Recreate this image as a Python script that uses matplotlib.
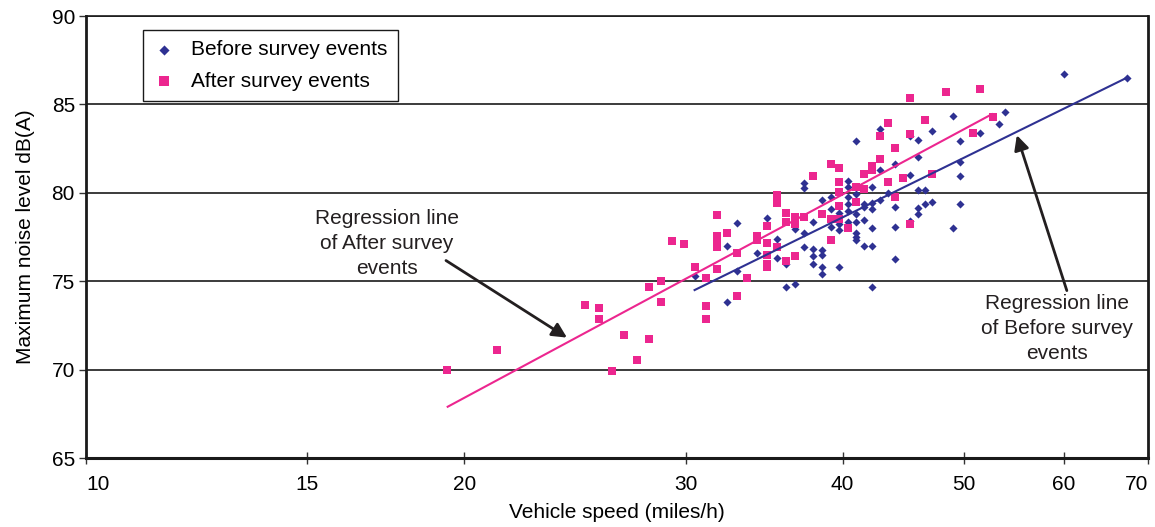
import numpy as np
from matplotlib import pyplot as plt

plt.rcParams['font.family'] = ['Liberation Sans', 'DejaVu Sans']

# before survey events (speed in miles/h, max noise dB(A))
before_speed = [30.51, 32.35, 32.35, 32.95, 32.95, 34.18, 34.81, 35.46, 35.46, 36.05,
                36.05, 36.65, 36.65, 37.25, 37.25, 37.25, 37.25, 37.88, 37.88, 37.88,
                37.88, 38.51, 38.51, 38.51, 38.51, 38.51, 39.15, 39.15, 39.15, 39.73,
                39.73, 39.73, 39.73, 40.39, 40.39, 40.39, 40.39, 40.39, 40.39, 41.00,
                41.00, 41.00, 41.00, 41.00, 41.00, 41.00, 41.60, 41.60, 41.60, 41.60,
                42.21, 42.21, 42.21, 42.21, 42.21, 42.21, 42.82, 42.82, 42.82, 43.46,
                44.02, 44.02, 44.02, 44.02, 45.24, 45.24, 45.24, 45.91, 45.91, 45.91,
                45.91, 45.91, 46.50, 46.50, 47.10, 47.10, 48.94, 48.94, 49.58, 49.58,
                49.58, 49.58, 51.43, 53.25, 53.84, 60.00, 67.32]
before_db = [75.32, 77.02, 73.85, 78.27, 75.55, 76.57, 78.55, 77.36, 76.29, 76.00,
             74.65, 77.93, 74.82, 80.54, 80.25, 77.70, 76.91, 78.33, 76.80, 76.40,
             75.95, 79.57, 76.74, 76.51, 75.78, 75.38, 79.74, 79.06, 78.04, 78.84,
             78.21, 77.87, 75.78, 80.65, 80.31, 79.74, 79.35, 78.95, 78.33, 82.92,
             79.91, 78.78, 78.33, 77.70, 77.48, 77.31, 79.35, 79.18, 78.44, 76.97,
             80.31, 79.40, 79.06, 77.99, 76.97, 74.70, 83.60, 81.27, 79.57, 79.97,
             81.61, 79.18, 78.04, 76.23, 83.20, 80.99, 78.38, 82.97, 82.01, 80.14,
             79.12, 78.78, 80.14, 79.35, 83.48, 79.46, 84.33, 77.99, 82.92, 81.73,
             80.93, 79.35, 83.37, 83.88, 84.56, 86.71, 86.49]

# after survey events
after_speed = [19.38, 21.23, 24.95, 25.59, 25.59, 26.21, 26.79, 27.44, 28.05, 28.05,
               28.67, 28.67, 29.26, 29.91, 30.51, 31.13, 31.13, 31.13, 31.76, 31.76,
               31.76, 31.76, 31.76, 32.35, 32.95, 32.95, 33.56, 34.18, 34.18, 34.81,
               34.81, 34.81, 34.81, 34.81, 35.46, 35.46, 35.46, 36.05, 36.05, 36.05,
               36.65, 36.65, 36.65, 37.25, 37.88, 38.51, 39.15, 39.15, 39.15, 39.73,
               39.73, 39.73, 39.73, 39.73, 40.39, 41.00, 41.00, 41.60, 41.60, 42.21,
               42.21, 42.82, 42.82, 43.46, 43.46, 44.02, 44.02, 44.66, 45.24, 45.24,
               45.24, 46.50, 47.10, 48.32, 50.77, 51.43, 52.67]
after_db = [70.00, 71.13, 73.68, 73.46, 72.89, 69.94, 71.93, 70.57, 74.65, 71.76,
            75.04, 73.80, 77.25, 77.08, 75.78, 75.21, 73.57, 72.89, 78.72, 77.53,
            77.19, 76.91, 75.67, 77.70, 76.57, 74.19, 75.21, 77.53, 77.31, 78.10,
            77.14, 76.51, 76.00, 75.83, 79.86, 79.40, 76.91, 78.84, 78.33, 76.17,
            78.61, 78.21, 76.40, 78.61, 80.93, 78.78, 81.61, 78.50, 77.31, 81.39,
            80.59, 80.03, 79.23, 78.50, 77.99, 80.31, 79.46, 81.05, 80.20, 81.50,
            81.27, 83.20, 81.90, 83.94, 80.59, 82.52, 79.74, 80.82, 85.35, 83.31,
            78.21, 84.11, 81.05, 85.69, 83.37, 85.86, 84.28]

# regression line end points
before_fit_speed = [30.5, 67.3]
before_fit_db = [74.5, 86.5]
after_fit_speed = [19.4, 52.6]
after_fit_db = [67.9, 84.45]

x_ticks = [10, 15, 20, 30, 40, 50, 60, 70]
y_ticks = [65, 70, 75, 80, 85, 90]

navy = '#2e3192'
pink = '#ec268f'

fig = plt.figure(figsize=(11.55, 5.27), dpi=100)
fig.subplots_adjust(left=0.0745, right=0.9939, top=0.9696, bottom=0.1309)
ax = fig.add_subplot(111)

ax.set_xscale('log')
ax.set_xlim(10, 70)
ax.set_ylim(65, 90)

ax.scatter(before_speed, before_db, marker='D', s=17, color=navy, linewidths=0,
           label='Before survey events', zorder=3)
ax.scatter(after_speed, after_db, marker='s', s=40, color=pink, linewidths=0,
           label='After survey events', zorder=4)
ax.plot(before_fit_speed, before_fit_db, color=navy, lw=1.5, zorder=5)
ax.plot(after_fit_speed, after_fit_db, color=pink, lw=1.5, zorder=5)

ax.set_xticks(x_ticks)
ax.set_xticklabels([str(v) for v in x_ticks])
ax.xaxis.set_minor_locator(plt.NullLocator())
ax.set_yticks(y_ticks)
ax.tick_params(axis='x', direction='inout', length=9, width=1, pad=8,
               labelsize=15, color='#333333')
ax.tick_params(axis='y', direction='out', length=5, width=1, pad=3,
               labelsize=15, color='#333333')
xl = ax.get_xticklabels()
xl[0].set_horizontalalignment('left')
xl[-1].set_horizontalalignment('right')

ax.yaxis.grid(True, color='#1a1a1a', lw=1.2)
ax.set_axisbelow(True)

for side, lw in [('left', 2.0), ('bottom', 2.2), ('right', 2.0), ('top', 1.2)]:
    ax.spines[side].set_linewidth(lw)
    ax.spines[side].set_color('#1a1a1a')

ax.set_xlabel('Vehicle speed (miles/h)', fontsize=15, labelpad=6)
ax.set_ylabel('Maximum noise level dB(A)', fontsize=15, labelpad=12)

leg = ax.legend(loc='upper left', bbox_to_anchor=(0.0537, 0.9683), borderaxespad=0,
                fontsize=15, fancybox=False, edgecolor='#1a1a1a', framealpha=1,
                handlelength=1.0, handletextpad=0.8, labelspacing=0.6,
                borderpad=0.5, scatterpoints=1, markerscale=1.25)
leg.get_frame().set_linewidth(1.0)

ax.text(17.36, 77.14, 'Regression line\nof After survey\nevents', fontsize=15,
        ha='center', va='center', linespacing=1.4, color='#231f20')
ax.annotate('', xy=(24.14, 71.81), xytext=(19.34, 76.17),
            arrowprops=dict(arrowstyle='-|>', color='#231f20', lw=2,
                            mutation_scale=22, shrinkA=0, shrinkB=0))
ax.text(59.24, 72.32, 'Regression line\nof Before survey\nevents', fontsize=15,
        ha='center', va='center', linespacing=1.4, color='#231f20')
ax.annotate('', xy=(55.05, 83.26), xytext=(60.33, 74.47),
            arrowprops=dict(arrowstyle='-|>', color='#231f20', lw=2,
                            mutation_scale=22, shrinkA=0, shrinkB=0))

fig.savefig('out.png', dpi=100)
